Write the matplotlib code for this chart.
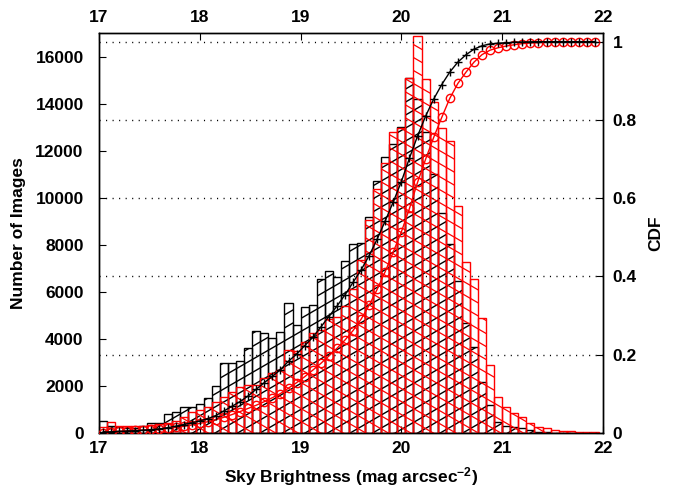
import numpy as np
import matplotlib
matplotlib.use("Agg")
import matplotlib.pyplot as plt
from matplotlib.collections import LineCollection

plt.rcParams['font.family'] = ['Liberation Sans', 'DejaVu Sans']
plt.rcParams['font.weight'] = 'bold'
plt.rcParams['axes.labelweight'] = 'bold'
plt.rcParams['font.size'] = 12.5
plt.rcParams['mathtext.default'] = 'regular'

# histogram bins: 0.08 mag wide starting at 17
bin_width = 0.08
bin_edges = 17.0 + bin_width * np.arange(63)

counts_black = [500, 300, 250, 220, 230, 280, 430, 440, 790, 910,
                1120, 1090, 1230, 1480, 2000, 2990, 2960, 3060, 3620, 4320,
                4240, 4030, 4280, 5510, 4570, 5350, 5450, 6540, 6870, 6650,
                7290, 8030, 8070, 9180, 10720, 11740, 12300, 13000, 15100, 14200,
                12800, 11000, 9370, 8040, 6440, 4680, 3670, 2180, 1190, 480,
                300, 250, 200, 130, 60, 40, 20, 10, 0, 0,
                0, 0]
counts_red = [270, 480, 300, 300, 280, 300, 340, 380, 440, 520,
              700, 900, 980, 1120, 1330, 1550, 1760, 1940, 2050, 2050,
              2330, 2540, 2680, 3530, 3500, 3850, 4240, 4360, 4840, 4950,
              5380, 6110, 7360, 9060, 10370, 11490, 12780, 12950, 15080, 16860,
              15050, 14060, 12960, 12400, 9630, 7250, 6540, 4880, 2900, 1550,
              1100, 870, 700, 410, 240, 200, 130, 100, 80, 60,
              50, 40]

counts_black = np.array(counts_black, dtype=float)
counts_red = np.array(counts_red, dtype=float)
cdf_black = np.cumsum(counts_black) / counts_black.sum()
cdf_red = np.cumsum(counts_red) / counts_red.sum()
cdf_x = bin_edges[:-1] + bin_width / 2

fig = plt.figure(figsize=(6.73, 4.94), dpi=100)
ax = fig.add_axes([99 / 673, 61 / 494, 504 / 673, 400 / 494])
ax2 = ax.twinx()


def hatch(ax, counts, slope, spacing, color, lw, z):
    # outline used only to clip the diagonal lines
    clip = ax.stairs(counts, bin_edges, fill=True, facecolor='none',
                     edgecolor='none', linewidth=0)
    pos = ax.get_position()
    w = pos.width * fig.get_figwidth() * fig.dpi
    h = pos.height * fig.get_figheight() * fig.dpi
    segs = []
    for c in np.arange(-abs(slope) * w - h, h + abs(slope) * w + h, spacing):
        segs.append([(0.0, c / h), (1.0, (c + slope * w) / h)])
    lc = LineCollection(segs, colors=color, linewidths=lw,
                        transform=ax.transAxes, zorder=z)
    ax.add_collection(lc)
    lc.set_clip_path(clip)
    ax.bar(bin_edges[:-1], counts, width=bin_width, align='edge', fill=False,
           edgecolor=color, linewidth=1.0, zorder=z + 0.1)


t30 = np.tan(np.radians(30))
hatch(ax, counts_black, t30, 13, 'black', 1.0, 2)
hatch(ax, counts_red, -t30, 13, 'red', 0.9, 3)

ax.set_xlim(17, 22)
ax.set_ylim(0, 17000)
ax.set_yticks(np.arange(0, 16001, 2000))
ax.set_xticks(np.arange(17, 23, 1))
ax.tick_params(axis='x', top=True, labeltop=True, direction='in', length=5, pad=6)
ax.tick_params(axis='y', direction='in', length=5, right=False, pad=11)
ax.set_xlabel('Sky Brightness (mag arcsec$^{-2}$)', labelpad=6)
ax.set_ylabel('Number of Images', labelpad=7)

ax2.plot(cdf_x, cdf_black, color='black', marker='+', markersize=6,
         linewidth=1.0, markeredgewidth=1.0, zorder=5)
ax2.plot(cdf_x, cdf_red, color='red', marker='o', markersize=6,
         markerfacecolor='none', linewidth=1.0, markeredgewidth=1.0, zorder=4)
ax2.set_ylim(0, 1.022)
ax2.set_yticks([0, 0.2, 0.4, 0.6, 0.8, 1.0])
ax2.set_yticklabels(['0', '0.2', '0.4', '0.6', '0.8', '1'])
ax2.tick_params(axis='y', direction='in', length=5, pad=7)
ax2.yaxis.grid(True, linestyle=(0, (0.8, 3.9)), color='black', linewidth=1.0)
ax2.set_ylabel('CDF', labelpad=8)

for a in (ax, ax2):
    for s in a.spines.values():
        s.set_linewidth(1.0)

fig.savefig('out.png', dpi=100)
